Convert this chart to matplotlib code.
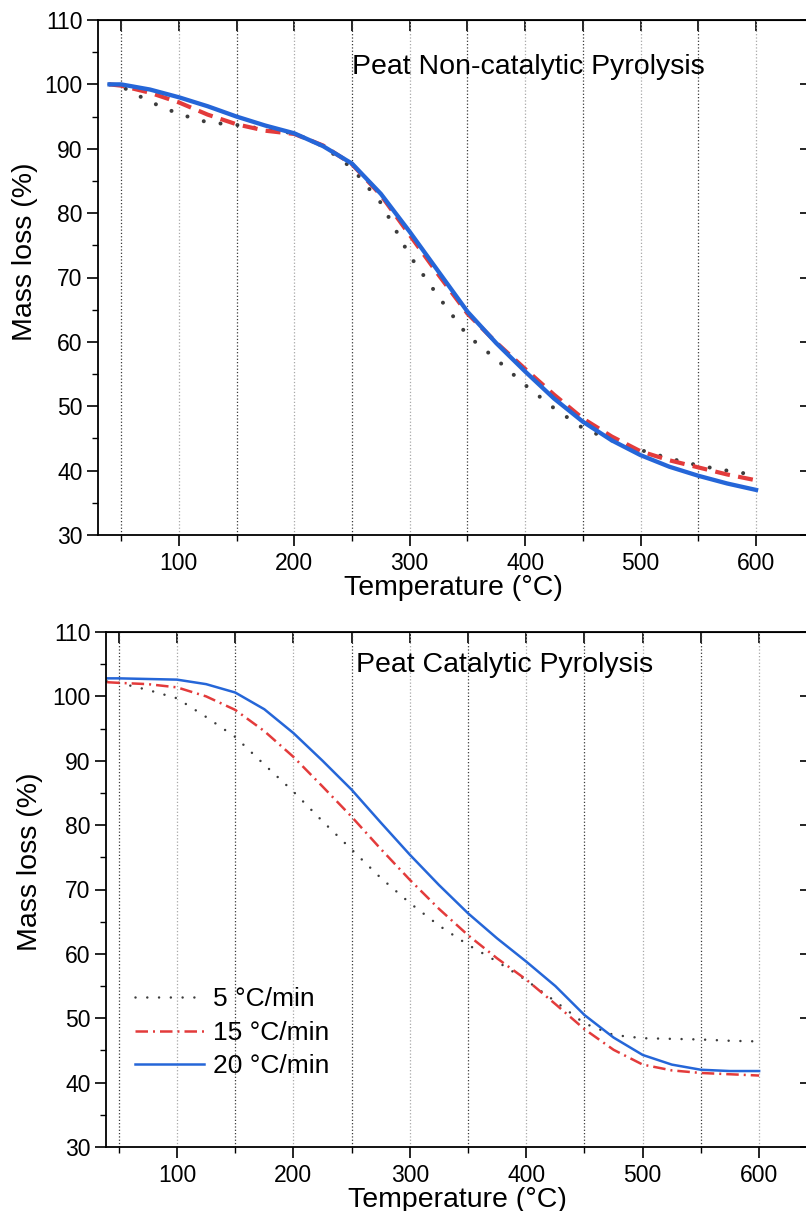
#!/usr/bin/env python3
# -*- coding: utf-8 -*-
"""
TGA mass loss curves for peat, non-catalytic vs catalytic pyrolysis
at three heating rates -> out.png
"""
import matplotlib
matplotlib.use("Agg")
import matplotlib.pyplot as plt
from matplotlib.ticker import MultipleLocator
from matplotlib.lines import Line2D

# temperature grid (°C)
temp_noncat = [40, 50, 75, 100, 125, 150, 175, 200, 225, 250, 275, 300,
               325, 350, 375, 400, 425, 450, 475, 500, 525, 550, 575, 600]
temp_cat = [40, 50, 75, 100, 125, 150, 175, 200, 225, 250, 275, 300,
            325, 350, 375, 400, 425, 450, 475, 500, 525, 550, 575, 600]

# mass loss (%) - non-catalytic
noncat_5 = [100.0, 99.7, 97.3, 95.4, 94.1, 93.7, 93.0, 92.4, 90.4, 87.0, 81.6, 73.4,
            67.0, 61.0, 57.3, 53.3, 49.7, 46.6, 44.7, 43.2, 41.9, 40.8, 40.0, 39.3]
noncat_15 = [100.0, 99.8, 98.7, 97.2, 95.3, 93.8, 92.8, 92.3, 90.5, 87.6, 82.8, 76.6,
             70.4, 64.4, 59.9, 55.8, 51.8, 48.1, 45.3, 43.0, 41.6, 40.5, 39.4, 38.5]
noncat_20 = [100.0, 100.0, 99.2, 98.0, 96.6, 95.0, 93.6, 92.4, 90.4, 87.7, 83.0, 77.1,
             70.9, 64.7, 59.8, 55.4, 51.2, 47.6, 44.7, 42.4, 40.6, 39.2, 38.0, 37.0]

# mass loss (%) - catalytic
cat_5 = [102.3, 102.1, 101.0, 99.7, 96.8, 93.7, 89.4, 85.2, 80.6, 76.2, 71.8, 67.9,
         64.4, 61.4, 58.8, 55.9, 52.6, 49.2, 47.4, 46.9, 46.8, 46.7, 46.5, 46.4]
cat_15 = [102.2, 102.1, 101.9, 101.4, 100.0, 97.9, 94.6, 90.6, 86.0, 81.3, 76.3, 71.5,
          67.0, 62.9, 59.3, 56.0, 52.2, 48.3, 45.1, 42.8, 41.9, 41.5, 41.3, 41.1]
cat_20 = [102.8, 102.8, 102.7, 102.6, 101.9, 100.6, 98.0, 94.3, 90.0, 85.5, 80.4, 75.4,
          70.7, 66.3, 62.4, 58.8, 55.0, 50.5, 47.0, 44.3, 42.8, 42.0, 41.8, 41.8]

rate_labels = ["5 °C/min", "15 °C/min", "20 °C/min"]

BLUE = "#2566d8"
RED = "#e33b3b"
DARK = "#3c3c3c"

plt.rcParams["font.family"] = ["Liberation Sans", "DejaVu Sans"]


def style_axes(ax, xlim, ylab_xy):
    ax.set_xlim(*xlim)
    ax.set_ylim(30, 110)
    ax.xaxis.set_major_locator(MultipleLocator(100))
    ax.xaxis.set_minor_locator(MultipleLocator(50))
    ax.yaxis.set_major_locator(MultipleLocator(10))
    ax.yaxis.set_minor_locator(MultipleLocator(5))
    ax.tick_params(which="major", direction="out", length=8, width=1.2,
                   labelsize=16.5, pad=4)
    ax.tick_params(which="minor", direction="out", length=4, width=1.0)
    ax.tick_params(axis="y", which="major", pad=3)
    for sp in ax.spines.values():
        sp.set_linewidth(1.3)
    # vertical dotted grid every 50 °C
    ax.grid(axis="x", which="major", linestyle=":", linewidth=0.9, color="#a8a8a8")
    ax.grid(axis="x", which="minor", linestyle=":", linewidth=0.9, color="#3a3a3a")
    ax.set_axisbelow(True)

    top = ax.secondary_xaxis("top")
    top.xaxis.set_major_locator(MultipleLocator(50))
    top.tick_params(direction="in", length=8, width=1.2, labeltop=False)
    right = ax.secondary_yaxis("right")
    right.yaxis.set_major_locator(MultipleLocator(10))
    right.tick_params(direction="in", length=6, width=1.2, labelright=False)

    ax.set_xlabel("Temperature (°C)", fontsize=20.5, labelpad=0)
    ax.set_ylabel("Mass loss (%)", fontsize=20.5)
    ax.yaxis.set_label_coords(*ylab_xy)


fig = plt.figure(figsize=(8.06, 12.11), dpi=100)

# ---- top: non-catalytic
ax1 = fig.add_axes([98 / 806, 1 - 535 / 1211, 710 / 806, 515 / 1211])
ax1.plot(temp_noncat, noncat_5, color=DARK, lw=2.9, linestyle=(0, (0.01, 4.2)),
         dash_capstyle="round")
ax1.plot(temp_noncat, noncat_15, color=RED, lw=3.0, linestyle=(0, (3.6, 2.0)))
ax1.plot(temp_noncat, noncat_20, color=BLUE, lw=3.1)
style_axes(ax1, (30, 645), (-0.085, 0.55))
ax1.text(403, 102.7, "Peat Non-catalytic Pyrolysis", fontsize=20.5,
         ha="center", va="center")

# ---- bottom: catalytic
ax2 = fig.add_axes([106 / 806, 1 - 1147 / 1211, 702 / 806, 515 / 1211])
ax2.plot(temp_cat, cat_5, color=DARK, lw=1.8, linestyle=(0, (0.01, 4.7)),
         dash_capstyle="round")
ax2.plot(temp_cat, cat_15, color=RED, lw=1.8, linestyle=(0, (5, 2, 0.8, 2)))
ax2.plot(temp_cat, cat_20, color=BLUE, lw=1.8)
style_axes(ax2, (39, 642), (-0.09, 0.553))
ax2.text(381, 104.9, "Peat Catalytic Pyrolysis", fontsize=20.5,
         ha="center", va="center")

handles = [
    Line2D([], [], color=DARK, lw=1.8, linestyle=(0, (0.01, 4.7)), dash_capstyle="round"),
    Line2D([], [], color=RED, lw=1.8, linestyle=(0, (5, 2, 0.8, 2))),
    Line2D([], [], color=BLUE, lw=1.8),
]
ax2.legend(handles, rate_labels, loc="upper left", bbox_to_anchor=(0.042, 0.31),
           frameon=False, fontsize=19, handlelength=2.6, handletextpad=0.34,
           labelspacing=0.36, borderpad=0, borderaxespad=0)

fig.savefig("out.png", dpi=100)
plt.close(fig)
